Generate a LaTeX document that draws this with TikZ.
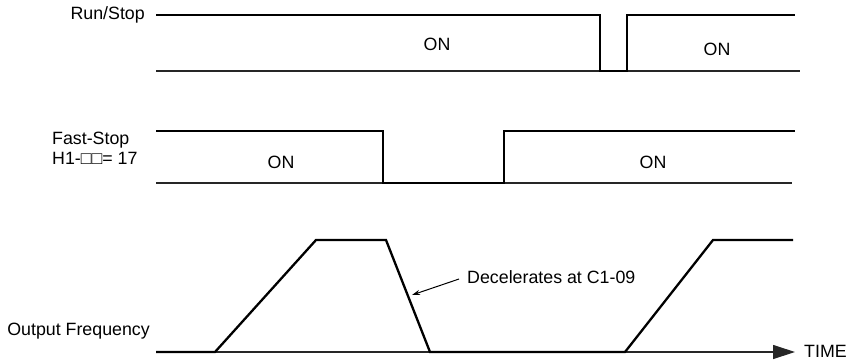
\documentclass[tikz,border=0pt]{standalone}
\usepackage{fontspec}
\setmainfont{Liberation Sans}
\usetikzlibrary{arrows.meta}
\begin{document}
\begin{tikzpicture}[x=1pt,y=-1pt,
  lbl/.style={inner sep=0pt,font=\fontsize{17.8}{20}\selectfont},
  sig/.style={line width=2.3pt,line join=miter},
  base/.style={line width=1.2pt,draw=black!85},
  note/.style={line width=1pt,-{Stealth[length=8pt,width=5pt]}}]
\useasboundingbox (0,0) rectangle (851,360);
% Run/Stop
\node[lbl,anchor=east] (rs) at (145,15) {Run/Stop};
\draw[base] (156,71) -- (800,71);
\draw[sig] (156,15) -- (600,15) -- (600,71) -- (627,71) -- (627,15) -- (795,15);
\node[lbl] (on1) at (437,44) {ON};
\node[lbl] (on2) at (717,49) {ON};
% Fast-Stop
\node[lbl,anchor=west,align=left] (fs) at (52,148) {Fast-Stop\\H1-□□= 17};
\draw[base] (156,183) -- (792,183);
\draw[sig] (156,131) -- (383,131) -- (383,183) -- (504,183) -- (504,131) -- (795,131);
\node[lbl] (on3) at (281,162) {ON};
\node[lbl] (on4) at (653,162) {ON};
% Output frequency
\node[lbl,anchor=east] (of) at (150,331) {Output Frequency};
\draw[base,-{Triangle[length=22pt,width=14pt]}] (156,352) -- (795,352);
\draw[sig] (156,352) -- (215,352) -- (316,240) -- (386,240) -- (430,352) -- (625,352) -- (713,240) -- (793,240);
\node[lbl,anchor=west] (time) at (804,351) {TIME};
\node[lbl,anchor=west] (dec) at (467,277) {Decelerates at C1-09};
\coordinate (dt) at (412,295);
\draw[note] (dec.west) ++(-8,2) -- (dt);
\end{tikzpicture}
\end{document}
